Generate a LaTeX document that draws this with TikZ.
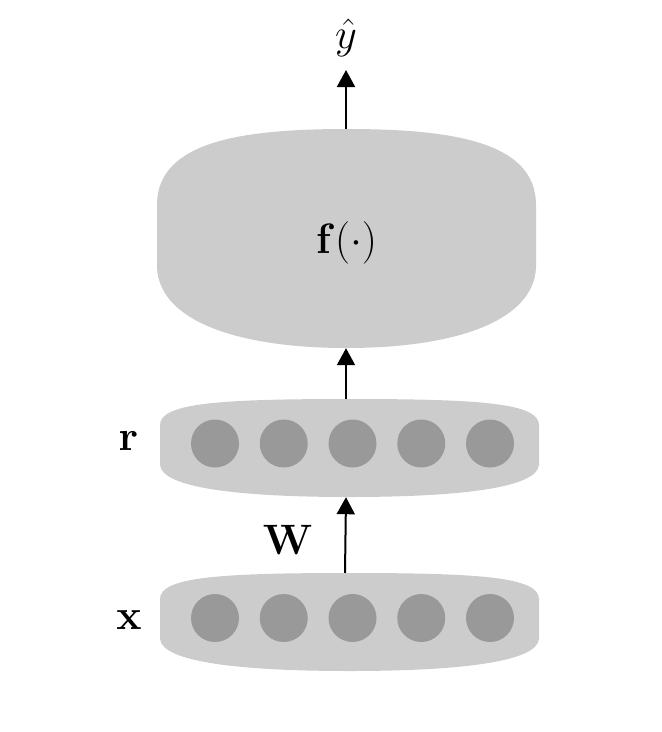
\documentclass[tikz,border=0pt]{standalone}
\usepackage{graphicx}
\usetikzlibrary{arrows.meta}
\definecolor{boxgray}{HTML}{CCCCCC}
\definecolor{unitgray}{HTML}{999999}
\newcommand{\bigtxt}[1]{\scalebox{2.05}{\huge #1}}
\tikzset{
  big/.style={inner sep=0pt},
  unit/.style={circle, fill=unitgray, minimum size=48pt, inner sep=0pt},
  holder/.style={rectangle, inner sep=0pt, draw=none},
  link/.style={line width=2pt, -{Triangle[length=17pt,width=18pt]}},
}
\begin{document}
\begin{tikzpicture}[x=1pt,y=-1pt]
\useasboundingbox (0,0) rectangle (662,732);
% f box
\fill[boxgray] (157,268) -- (157,205) .. controls (157,142) and (240,129) .. (346.5,129)
  .. controls (453,129) and (536,142) .. (536,205) -- (536,268)
  .. controls (533,322) and (453,348) .. (346.5,348)
  .. controls (240,348) and (160,322) .. (157,268) -- cycle;
\node[holder, minimum width=379pt, minimum height=219pt] (f) at (346.5,238.5) {};
\node[big] (flab) at (346.5,243) {\bigtxt{$\mathbf{f}(\cdot)$}};
% r layer
\fill[boxgray] (160,465) -- (160,425) .. controls (160,403) and (220,399) .. (349.5,399)
  .. controls (479,399) and (539,403) .. (539,425) -- (539,465)
  .. controls (537,488) and (459,497) .. (349.5,497)
  .. controls (240,497) and (162,488) .. (160,465) -- cycle;
\node[holder, minimum width=379pt, minimum height=98pt] (r) at (349.5,448) {};
% x layer
\fill[boxgray] (160,639) -- (160,599) .. controls (160,577) and (220,573) .. (349.5,573)
  .. controls (479,573) and (539,577) .. (539,599) -- (539,639)
  .. controls (537,662) and (459,671) .. (349.5,671)
  .. controls (240,671) and (162,662) .. (160,639) -- cycle;
\node[holder, minimum width=379pt, minimum height=98pt] (x) at (349.5,622) {};
% units
\foreach \i/\cx in {1/215,2/283.75,3/352.5,4/421.25,5/490} {
  \node[unit] (r\i) at (\cx,443.5) {};
  \node[unit] (x\i) at (\cx,618) {};
}
% labels
\node[big] (rlab) at (128.5,441) {\bigtxt{$\mathbf{r}$}};
\node[big] (xlab) at (129,620) {\bigtxt{$\mathbf{x}$}};
\node[big] (wlab) at (288,540) {\bigtxt{$\mathbf{W}$}};
\node[big] (yhat) at (346,38) {\bigtxt{$\hat{y}$}};
\coordinate (ytip) at (346,70);
% connectors
\draw[link] (x.north -| 345,0) -- (r.south -| 346,0);
\draw[link] (r.north -| 346,0) -- (f.south -| 346,0);
\draw[link] (f.north -| 346,0) -- (ytip);
\end{tikzpicture}
\end{document}
